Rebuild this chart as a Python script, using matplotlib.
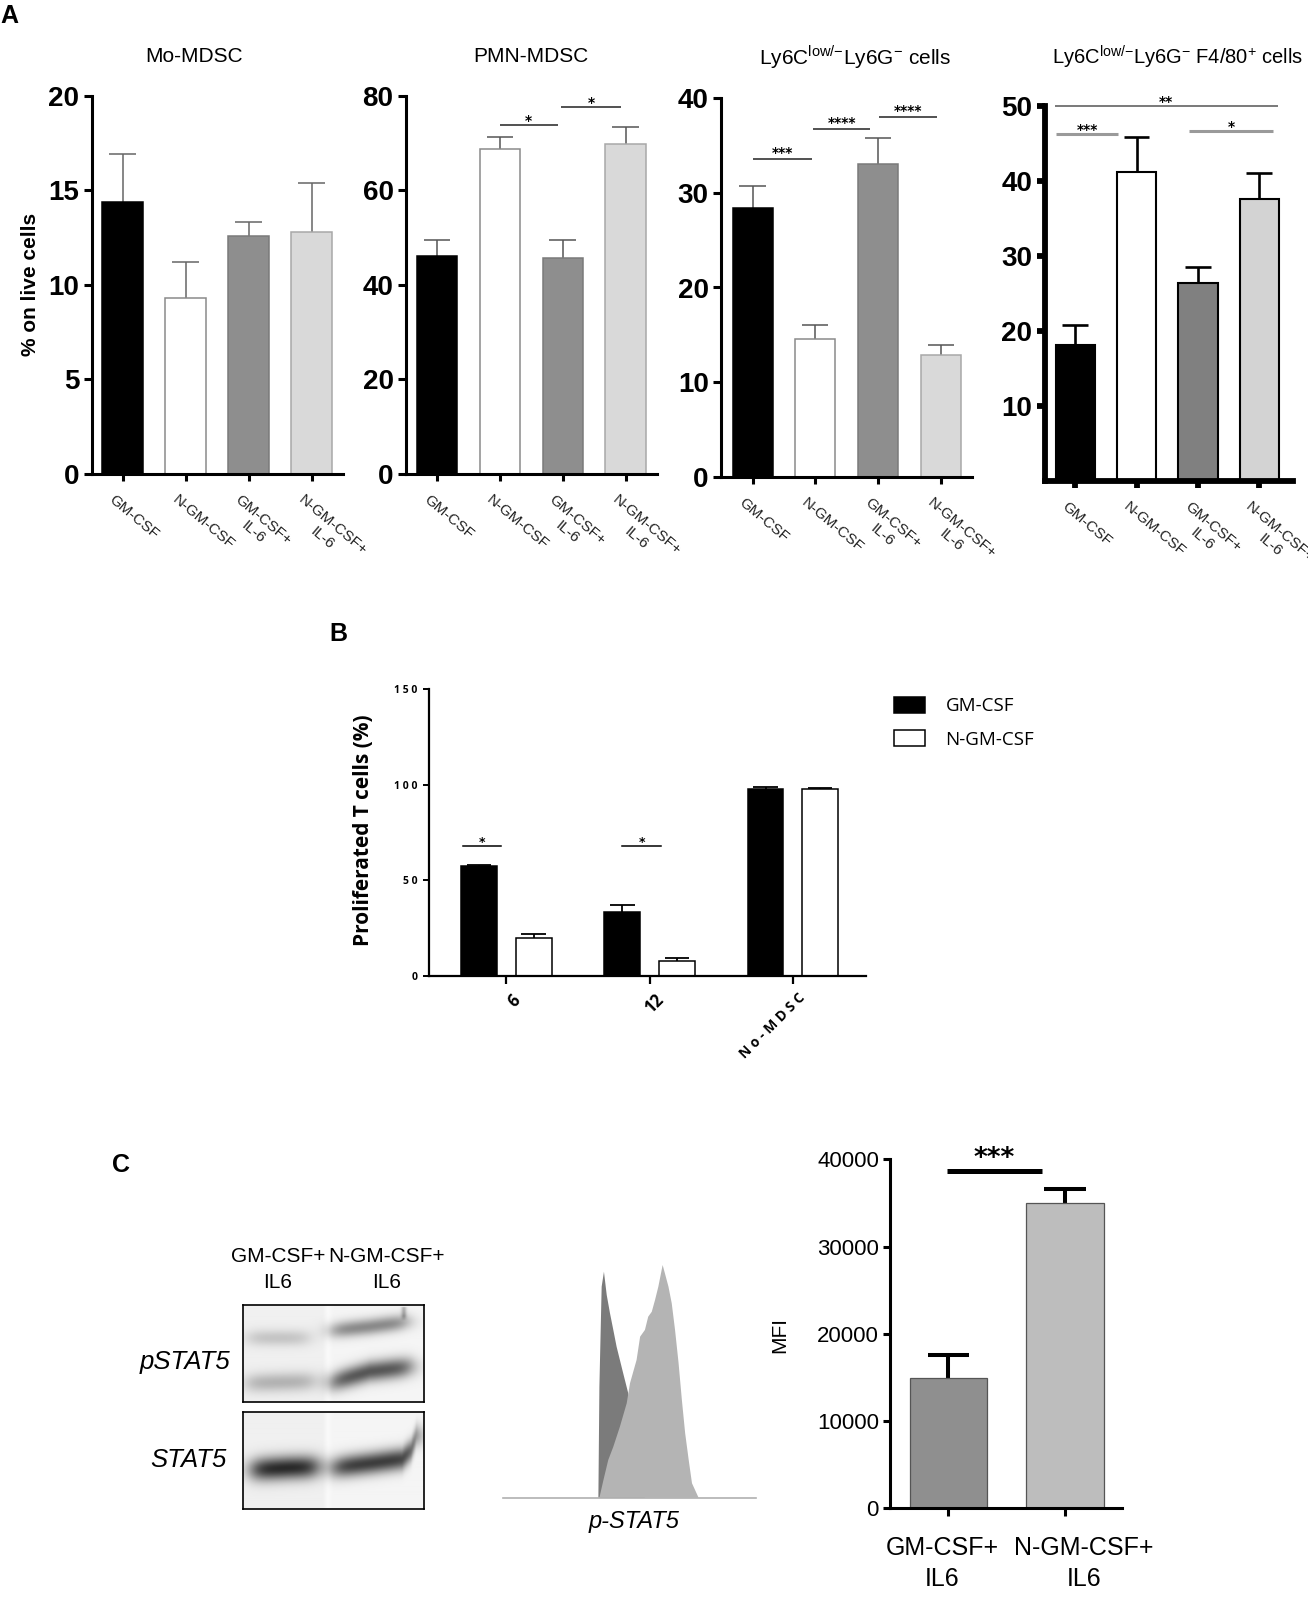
import matplotlib
matplotlib.use('Agg')
import matplotlib.pyplot as plt
import numpy as np

plt.rcParams['font.family'] = ['Liberation Sans', 'DejaVu Sans']
plt.rcParams['mathtext.fontset'] = 'custom'
plt.rcParams['mathtext.rm'] = 'Liberation Sans'

W, H = 1308, 1601

# ---------------- panel A data ----------------
a_groups = ['GM-CSF', 'N-GM-CSF', 'GM-CSF+\nIL-6', 'N-GM-CSF+\nIL-6']
mo_mean = [14.4, 9.3, 12.6, 12.8]
mo_err = [2.5, 1.9, 0.7, 2.6]
pmn_mean = [46.1, 68.7, 45.7, 69.8]
pmn_err = [3.4, 2.5, 3.8, 3.5]
ly6_mean = [28.4, 14.6, 33.1, 12.9]
ly6_err = [2.3, 1.4, 2.7, 1.0]
f480_mean = [18.1, 41.3, 26.4, 37.7]
f480_err = [2.7, 4.6, 2.2, 3.4]

# significance bars: (x from, x to, y, stars)
pmn_sig = [(1.0, 1.92, 73.8, '*'), (1.98, 2.92, 77.6, '*')]
ly6_sig = [(0.0, 0.94, 33.6, '***'), (0.96, 1.88, 36.7, '****'), (2.01, 2.94, 38.0, '****')]
f480_sig = [(-0.33, 3.3, 50.1, '**'), (-0.31, 0.70, 46.25, '***'), (1.86, 3.23, 46.7, '*')]

# ---------------- panel B data ----------------
b_groups = ['6', '12', 'N o - M D S C']
b_gm = [57.7, 33.6, 97.7]
b_gm_err = [0.4, 3.5, 1.4]
b_ngm = [19.7, 7.8, 97.7]
b_ngm_err = [2.3, 1.5, 0.8]
b_sig = [(-0.30, -0.035, 68.2, '*'), (0.81, 1.08, 68.2, '*')]

# ---------------- panel C data ----------------
mfi_groups = ['GM-CSF+\nIL6', 'N-GM-CSF+\nIL6']
mfi_mean = [14970, 35030]
mfi_err = [2600, 1530]

# flow histogram outlines (channel 0-100, % of max)
light_x = [38.1, 39.7, 41.6, 43.6, 46.2, 48.9, 50.2, 52.8, 54.2, 56.1, 57.4, 58.8, 60.1,
           61.4, 63.1, 64.0, 65.4, 66.7, 68.0, 69.4, 70.7, 72.0, 73.4, 74.7, 77.3]
light_y = [0, 7.6, 16.2, 21.9, 30.5, 40.6, 49.2, 59.2, 69.2, 72.1, 77.8, 79.9, 85.0,
           90.7, 100, 96.4, 90.7, 83.5, 72.1, 57.8, 42.0, 27.7, 16.2, 6.2, 0]
dark_x = [37.7, 38.1, 39.0, 39.9, 41.0, 42.3, 43.6, 44.9, 46.2, 47.5, 49.5, 51.5, 54.2, 56.1]
dark_y = [0, 47.7, 90.7, 97.1, 87.1, 79.2, 72.1, 64.9, 59.2, 53.5, 44.9, 27.7, 7.6, 0]

# western blot bands: (x control pts, y control pts, darkness, width) in box fractions
pstat5_bands = [
    ([0.03, 0.36], [0.345, 0.345], 0.17, 0.06),
    ([0.02, 0.39], [0.81, 0.79], 0.24, 0.07),
    ([0.49, 0.70, 0.91], [0.27, 0.23, 0.18], 0.42, 0.06),
    ([0.49, 0.70, 0.93], [0.80, 0.69, 0.64], 0.62, 0.075),
    ([0.885, 0.895], [0.03, 0.17], 0.25, 0.08),
]
stat5_bands = [
    ([0.05, 0.25, 0.41], [0.60, 0.58, 0.57], 0.78, 0.085),
    ([0.50, 0.72, 0.88, 0.93, 0.96], [0.58, 0.53, 0.49, 0.40, 0.25], 0.72, 0.08),
]
lane_bg_x = [0.0, 0.44, 0.47, 0.50, 1.0]
lane_bg_v = [0.06, 0.06, 0.02, 0.04, 0.04]


fig = plt.figure(figsize=(W / 100, H / 100), dpi=100)


def px_axes(x0, y0, x1, y1):
    return fig.add_axes([x0 / W, 1 - y1 / H, (x1 - x0) / W, (y1 - y0) / H])


def ftext(x, y, s, **kw):
    fig.text(x / W, 1 - y / H, s, **kw)


def draw_err(ax, x, means, errs, cap, color, lw):
    tops = np.array(means) + np.array(errs)
    ax.vlines(x, means, tops, color=color, lw=lw, zorder=1)
    ax.hlines(tops, np.array(x) - cap, np.array(x) + cap, color=color, lw=lw, zorder=1)


def draw_sig(ax, sig, color, lw, size, lift=0):
    for x1, x2, y, s in sig:
        ax.plot([x1, x2], [y, y], color=color, lw=lw, clip_on=False, solid_capstyle='butt')
        ax.annotate(s, ((x1 + x2) / 2, y), xytext=(0, lift), textcoords='offset pixels',
                    ha='center', va='baseline', fontsize=size, fontweight='bold',
                    family='DejaVu Sans', annotation_clip=False)


def a_panel(rect, means, errs, ymax, yticks, colors, edges, edge_lw, spine_lw,
            err_color, err_lw, xlim, title, title_x, title_size=15):
    ax = px_axes(*rect)
    x = np.arange(len(means))
    ax.bar(x, means, 0.64, color=colors, edgecolor=edges, linewidth=edge_lw, zorder=2)
    draw_err(ax, x, means, errs, 0.21, err_color, err_lw)
    ax.set_xlim(*xlim)
    ax.set_ylim(0, ymax)
    for s in ['top', 'right']:
        ax.spines[s].set_visible(False)
    for s in ['left', 'bottom']:
        ax.spines[s].set_linewidth(spine_lw)
    ax.set_yticks(yticks, labels=[str(t) for t in yticks], fontsize=20, fontweight='bold')
    ax.set_xticks(x, labels=[''] * len(x))
    ax.tick_params(axis='y', length=6, width=spine_lw, pad=3)
    ax.tick_params(axis='x', length=5, width=spine_lw)
    for i, lab in enumerate(a_groups):
        ax.annotate(lab, (i, 0), xycoords=('data', 'axes fraction'), xytext=(-7, -19),
                    textcoords='offset pixels', rotation=-40, rotation_mode='anchor',
                    ha='left', va='top', multialignment='center', fontsize=11,
                    color='#222222', annotation_clip=False)
    ftext(title_x, 57, title, ha='center', va='center', fontsize=title_size)
    return ax


grey_edges = ['black', '#8a8a8a', '#7a7a7a', '#a8a8a8']
grey_cols = ['black', 'white', '#8e8e8e', '#d9d9d9']

ax1 = a_panel((91.7, 95.7, 343, 474), mo_mean, mo_err, 20, [0, 5, 10, 15, 20],
              grey_cols, grey_edges, 1.1, 2.2, '#666666', 1.1, (-0.49, 3.5), 'Mo-MDSC', 194)
ax1.set_ylabel('% on live cells', fontsize=15, fontweight='bold', labelpad=6)

ax2 = a_panel((406, 95.7, 657, 474), pmn_mean, pmn_err, 80, [0, 20, 40, 60, 80],
              grey_cols, grey_edges, 1.1, 2.2, '#555555', 1.1, (-0.49, 3.5), 'PMN-MDSC', 531)
draw_sig(ax2, pmn_sig, '#222222', 1.1, 10)

ax3 = a_panel((721.3, 98.2, 972, 476.8), ly6_mean, ly6_err, 40, [0, 10, 20, 30, 40],
              grey_cols, grey_edges, 1.1, 2.2, '#555555', 1.1, (-0.5, 3.5),
              r'Ly6C$^{\mathregular{low/{-}}}$Ly6G$^{\mathregular{{-}}}$ cells', 855)
draw_sig(ax3, ly6_sig, '#222222', 1.1, 10, lift=2)

ax4 = a_panel((1044.5, 106.4, 1293, 481), f480_mean, f480_err, 50, [10, 20, 30, 40, 50],
              ['black', 'white', '#808080', '#d3d3d3'], 'black', 1.5, 4.2, 'black', 1.9,
              (-0.5, 3.55),
              r'Ly6C$^{\mathregular{low/{-}}}$Ly6G$^{\mathregular{{-}}}$ F4/80$^{\mathregular{+}}$ cells',
              1178, title_size=14.5)
draw_sig(ax4, f480_sig[:1], '#555555', 1.1, 10)
draw_sig(ax4, f480_sig[1:], '#9a9a9a', 2.2, 10)

ftext(0, 16, 'A', ha='left', va='center', fontsize=18, fontweight='bold')

# ---------------- panel B ----------------
axb = px_axes(428.8, 689.3, 866.4, 976)
xb = np.arange(len(b_groups))
hb1 = axb.bar(xb - 0.19, b_gm, 0.25, color='black', edgecolor='black', linewidth=1.1, zorder=2)
hb2 = axb.bar(xb + 0.19, b_ngm, 0.25, color='white', edgecolor='black', linewidth=1.1, zorder=2)
draw_err(axb, xb - 0.19, b_gm, b_gm_err, 0.085, 'black', 1.3)
draw_err(axb, xb + 0.19, b_ngm, b_ngm_err, 0.085, 'black', 1.3)
axb.set_xlim(-0.542, 2.514)
axb.set_ylim(0, 150)
for s in ['top', 'right']:
    axb.spines[s].set_visible(False)
for s in ['left', 'bottom']:
    axb.spines[s].set_linewidth(1.6)
axb.set_yticks([0, 50, 100, 150], labels=['0', '5 0', '1 0 0', '1 5 0'],
               fontsize=7.5, fontweight='bold', family='Open Sans')
axb.tick_params(axis='y', length=4, width=1.4, pad=4)
axb.set_xticks(xb, labels=[''] * 3)
axb.tick_params(axis='x', length=6, width=1.6)
b_sizes = [12, 12, 10]
for i, lab in enumerate(b_groups):
    axb.annotate(lab, (i, 0), xycoords=('data', 'axes fraction'), xytext=(5, -15),
                 textcoords='offset pixels', rotation=45, rotation_mode='anchor',
                 ha='right', va='top', fontsize=b_sizes[i], fontweight='bold',
                 family='Open Sans', annotation_clip=False)
for x1, x2, y, s in b_sig:
    axb.plot([x1, x2], [y, y], color='black', lw=1.1)
    axb.annotate(s, ((x1 + x2) / 2, y), xytext=(0, 0), textcoords='offset pixels',
                 ha='center', va='baseline', fontsize=9, fontweight='bold', family='DejaVu Sans')
ftext(363.6, 830, 'Proliferated T cells (%)', rotation=90, ha='center', va='center',
      fontsize=15, fontweight='bold', family='Open Sans')
axb.legend([hb1, hb2], ['GM-CSF', 'N-GM-CSF'], loc='upper left',
           bbox_to_anchor=(894 / W, 1 - 697 / H), bbox_transform=fig.transFigure,
           frameon=False, handlelength=1.65, handleheight=0.9, handletextpad=1.1,
           labelspacing=0.8, borderpad=0, borderaxespad=0,
           prop={'family': 'Open Sans', 'size': 13.5})
ftext(329, 634, 'B', ha='left', va='center', fontsize=18, fontweight='bold')

# ---------------- panel C ----------------
ftext(112, 1165, 'C', ha='left', va='center', fontsize=18, fontweight='bold')


def blot_image(bands, nx=362, ny=194):
    xx, yy = np.meshgrid(np.linspace(0, 1, nx), np.linspace(0, 1, ny))
    img = np.interp(xx, lane_bg_x, lane_bg_v)
    for xs, ys, peak, sig in bands:
        yc = np.interp(xx, xs, ys)
        if xs[-1] - xs[0] < 0.05:  # vertical streak
            band = np.exp(-0.5 * ((xx - np.mean(xs)) / 0.01) ** 2)
            band = band * np.clip((ys[-1] - yy) / 0.05, 0, 1) * (yy > ys[0])
        else:
            tx = 1 / (1 + np.exp(-(xx - xs[0]) / 0.03)) / (1 + np.exp((xx - xs[-1]) / 0.03))
            band = np.exp(-0.5 * ((yy - yc) / sig) ** 2) * tx
        img = img + peak * band
    return np.clip(img, 0, 1)


for rect, bands in [((243, 1305, 424, 1402), pstat5_bands), ((243, 1412, 424, 1509), stat5_bands)]:
    axw = px_axes(*rect)
    axw.imshow(blot_image(bands), cmap='gray_r', vmin=0, vmax=1, extent=(0, 1, 1, 0),
               aspect='auto', interpolation='bilinear')
    axw.set_xticks([])
    axw.set_yticks([])
    for s in axw.spines.values():
        s.set_linewidth(1.2)
ftext(278, 1257, 'GM-CSF+', ha='center', va='center', fontsize=15)
ftext(278, 1283, 'IL6', ha='center', va='center', fontsize=15)
ftext(387, 1257, 'N-GM-CSF+', ha='center', va='center', fontsize=15)
ftext(387, 1283, 'IL6', ha='center', va='center', fontsize=15)
ftext(185, 1362, 'pSTAT5', ha='center', va='center', fontsize=18.5, style='italic')
ftext(188, 1460, 'STAT5', ha='center', va='center', fontsize=18.5, style='italic')

# flow histogram
axh = px_axes(503, 1265, 756, 1497.7)
axh.fill(dark_x, dark_y, color='#7b7b7b', lw=0)
axh.fill(light_x, light_y, color='#b4b4b4', lw=0)
axh.axhline(0, color='#b0b0b0', lw=1.2, clip_on=False)
axh.set_xlim(0, 100)
axh.set_ylim(0, 100)
axh.axis('off')
ftext(634, 1521, 'p-STAT5', ha='center', va='center', fontsize=17, style='italic')

# MFI bars
axm = px_axes(890, 1159.3, 1121.7, 1508.3)
xm = np.arange(len(mfi_mean))
axm.bar(xm, mfi_mean, 0.663, color=['#8f8f8f', '#bdbdbd'], edgecolor='#555555',
        linewidth=0.9, zorder=2)
draw_err(axm, xm, mfi_mean, mfi_err, 0.176, 'black', 2.9)
axm.set_xlim(-0.5, 1.486)
axm.set_ylim(0, 40000)
for s in ['top', 'right']:
    axm.spines[s].set_visible(False)
for s in ['left', 'bottom']:
    axm.spines[s].set_linewidth(2.2)
axm.set_yticks([0, 10000, 20000, 30000, 40000],
               labels=['0', '10000', '20000', '30000', '40000'], fontsize=16)
axm.tick_params(axis='y', length=5, width=2.2, pad=3)
axm.set_xticks(xm, labels=[''] * 2)
axm.tick_params(axis='x', length=6, width=2.2)
mfi_label_shift = [-0.05, 0.16]
for i, lab in enumerate(mfi_groups):
    axm.annotate(lab, (i + mfi_label_shift[i], 0), xycoords=('data', 'axes fraction'),
                 xytext=(0, -28), textcoords='offset pixels', ha='center', va='top',
                 fontsize=18, linespacing=1.35, annotation_clip=False)
axm.plot([-0.014, 0.8], [38660, 38660], color='black', lw=3.6, solid_capstyle='butt')
axm.annotate('***', (0.39, 38660), xytext=(0, 5), textcoords='offset pixels', ha='center',
             va='baseline', fontsize=19, fontweight='bold', family='DejaVu Sans',
             annotation_clip=False)
ftext(780, 1335, 'MFI', rotation=90, ha='center', va='center', fontsize=15)

fig.savefig('out.png', dpi=100)
